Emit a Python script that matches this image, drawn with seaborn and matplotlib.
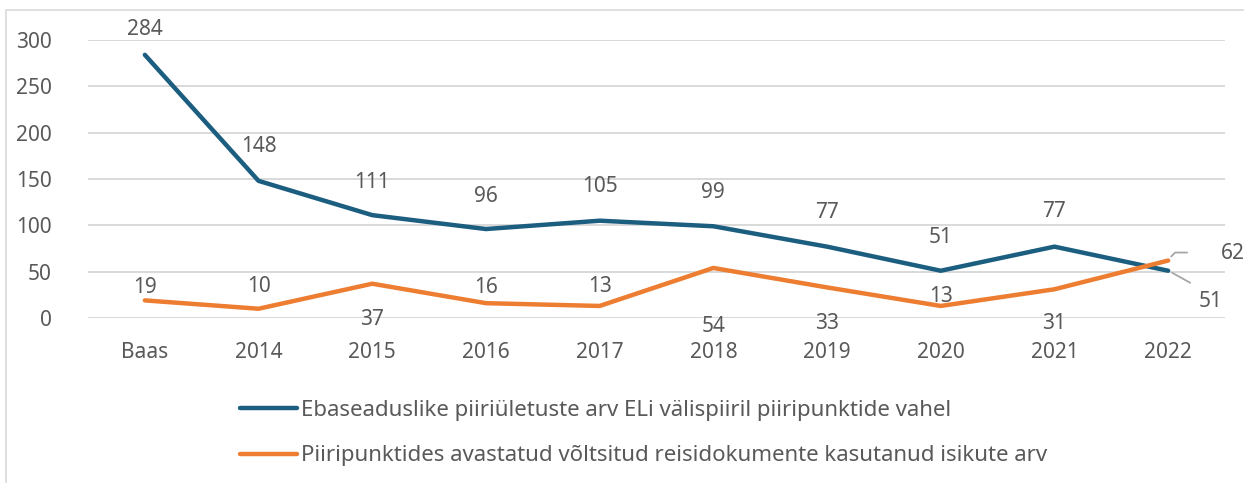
import matplotlib
matplotlib.use("Agg")
import matplotlib.pyplot as plt
import matplotlib.transforms as mtransforms
import seaborn as sns
import pandas as pd
from matplotlib.patches import Rectangle

categories = ["Baas", "2014", "2015", "2016", "2017", "2018", "2019", "2020", "2021", "2022"]
series1_name = "Ebaseaduslike piiriületuste arv ELi välispiiril piiripunktide vahel"
series2_name = "Piiripunktides avastatud võltsitud reisidokumente kasutanud isikute arv"
series1 = [284, 148, 111, 96, 105, 99, 77, 51, 77, 51]
series2 = [19, 10, 37, 16, 13, 54, 33, 13, 31, 62]
yticks = [0, 50, 100, 150, 200, 250, 300]

# label offsets in pixels (dx, dy), positive dy = up
off1 = [(0, 25), (0, 34), (0, 33), (0, 33), (0, 34), (0, 34), (0, 34), (0, 33), (0, 35), (42, -31)]
off2 = [(0, 13), (0, 22), (0, -36), (0, 16), (0, 19), (0, -59), (0, -36), (0, 9), (0, -34), (65, 7)]

sns.set_theme(style="white")
plt.rcParams['font.family'] = ['Noto Sans', 'DejaVu Sans']
TXT = "#595959"
C1 = "#1B5E7F"
C2 = "#ED7D31"
FS = 15

df = pd.DataFrame({
    "cat": categories * 2,
    "value": series1 + series2,
    "series": [series1_name] * len(categories) + [series2_name] * len(categories),
})

fig = plt.figure(figsize=(12.44, 4.83), dpi=100)
ax = fig.add_axes([88 / 1244, 1 - 318 / 483, (1225 - 88) / 1244, (318 - 40) / 483])

sns.lineplot(data=df, x="cat", y="value", hue="series", palette=[C1, C2],
             linewidth=3.2, ax=ax, sort=False, legend=True,
             solid_capstyle="round")

ax.set_xlim(-0.5, len(categories) - 0.5)
ax.set_ylim(0, 300)
ax.set_yticks(yticks)
ax.set_xlabel("")
ax.set_ylabel("")
ax.grid(axis="y", color="#d9d9d9", linewidth=1.4)
ax.set_axisbelow(True)
for s in ax.spines.values():
    s.set_visible(False)
ax.tick_params(axis="both", length=0, labelsize=FS, colors=TXT)
ax.tick_params(axis="x", pad=17)
ax.tick_params(axis="y", pad=26)

for i, v in enumerate(series1):
    dx, dy = off1[i]
    ax.annotate(str(v), (i, v), xytext=(dx, dy), textcoords="offset pixels",
                ha="center", va="center", fontsize=FS, color=TXT, annotation_clip=False)
for i, v in enumerate(series2):
    dx, dy = off2[i]
    ax.annotate(str(v), (i, v), xytext=(dx, dy), textcoords="offset pixels",
                ha="center", va="center", fontsize=FS, color=TXT, annotation_clip=False)

# leader lines for last points (drawn in pixel offsets from the data point)
n = len(categories) - 1
for val, path in ((series2[-1], [(3, 4), (7, 8), (19, 8)]),
                  (series1[-1], [(4, -2), (22, -12)])):
    base = ax.transData.transform((n, val))
    xs = [base[0] + p[0] for p in path]
    ys = [base[1] + p[1] for p in path]
    ax.plot(xs, ys, transform=mtransforms.IdentityTransform(), color="#a6a6a6",
            lw=1.3, clip_on=False, zorder=1)

handles, labels = ax.get_legend_handles_labels()
ax.get_legend().remove()
leg = fig.legend(handles, labels, loc="upper left", bbox_to_anchor=(220 / 1244, 1 - 380 / 483),
                 frameon=False, fontsize=16, handlelength=2.55, handletextpad=0.2,
                 labelspacing=1.1, labelcolor=TXT)
for h in leg.get_lines():
    h.set_linewidth(3.2)
    h.set_solid_capstyle("round")

fig.patches.append(Rectangle((6 / 1244, -0.1), 1.1, 1 - 10 / 483 + 0.1, transform=fig.transFigure,
                             fill=False, edgecolor="#d9d9d9", linewidth=1.2))

fig.savefig("out.png", dpi=100)
